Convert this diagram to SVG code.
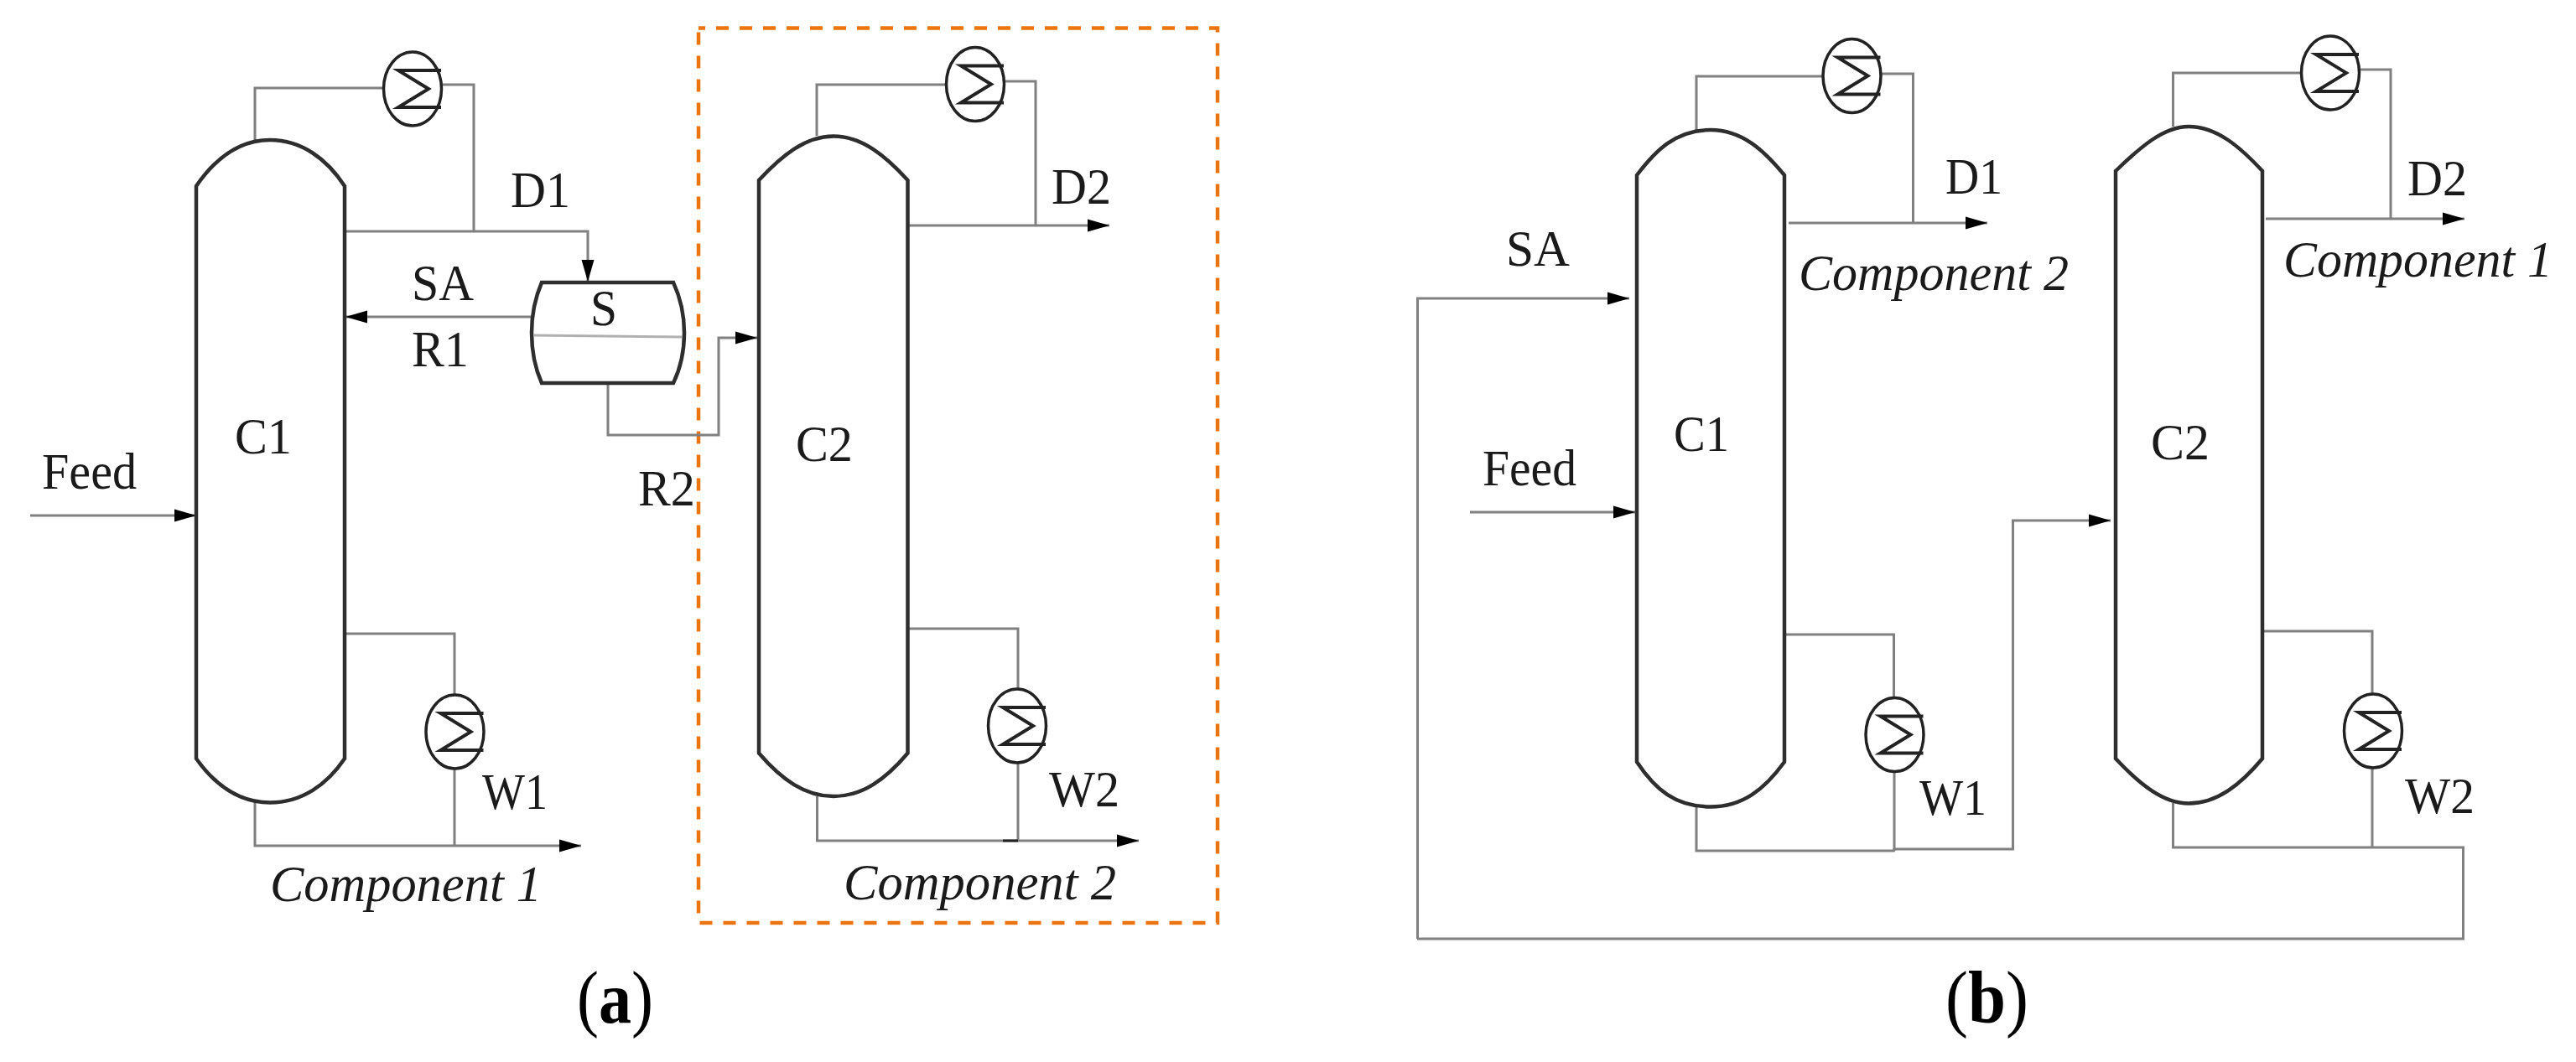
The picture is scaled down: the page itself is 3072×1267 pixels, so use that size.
<svg xmlns="http://www.w3.org/2000/svg" xmlns:xlink="http://www.w3.org/1999/xlink" width="3072" height="1267" viewBox="0 0 3072 1267">
<style>
.t{font-family:"Liberation Serif","Times New Roman",serif;font-size:62px;fill:#1a1a1a}
.i{font-style:italic;font-size:61px}
.cap{font-size:88px;fill:#000}
.cap tspan{font-weight:bold}
.col{fill:#fff;stroke:#2e2e2e;stroke-width:4.5}
.con{fill:none;stroke:#808080;stroke-width:3}
.arr{marker-end:url(#head)}
.dash{fill:none;stroke:#ea7510;stroke-width:4.5;stroke-dasharray:15 13;stroke-dashoffset:7}
.sh{fill:#fff;stroke:#222;stroke-width:3.5}
.sg{fill:none;stroke:#222;stroke-width:4}
</style>
<defs>
<marker id="head" markerUnits="userSpaceOnUse" markerWidth="26" markerHeight="16" refX="26" refY="8" orient="auto">
<path d="M0,0.5 L26,8 L0,15.5 Z" fill="#000"/>
</marker>
<g id="cond">
<ellipse class="sh" cx="0" cy="0" rx="34.5" ry="44"/>
<path class="sg" d="M34,-22 H-17 L19,0 L-17,22 H34"/>
</g>
</defs>
<rect width="3072" height="1267" fill="#fff"/>

<path id="selection" class="dash" d="M833,33.5 H1452 V1101 H833 Z"/>

<g id="connectors">
<path class="con" d="M304,167 V105 H458"/>
<path class="con" d="M526,101 H565 V276"/>
<path class="con arr" d="M413,276 H701 V336"/>
<path class="con arr" d="M634,378 H412"/>
<path class="con arr" d="M725,457 V519 H857 V403 H903"/>
<path class="con arr" d="M36,615 H234"/>
<path class="con" d="M413,756 H542 V830"/>
<path class="con" d="M542,916 V1009"/>
<path class="con arr" d="M304,957 V1009 H693"/>
<path class="con" d="M974,162 V101 H1129"/>
<path class="con" d="M1197,97 H1235 V269"/>
<path class="con arr" d="M1084,269 H1323"/>
<path class="con" d="M1084,750 H1214 V823"/>
<path class="con" d="M1214,909 V1003"/>
<path class="con arr" d="M974.5,950 V1003 H1358"/>
<path d="M1196,1003 H1214" fill="none" stroke="#222" stroke-width="3"/>
<path class="con" d="M2023,155 V91 H2174"/>
<path class="con" d="M2243,88 H2281.5 V266"/>
<path class="con arr" d="M2133,266 H2370"/>
<path class="con arr" d="M1690.5,1120 V356 H1943"/>
<path class="con arr" d="M1753,611 H1950"/>
<path class="con" d="M2128,757 H2258.5 V833"/>
<path class="con" d="M2259,920 V1015"/>
<path class="con arr" d="M2023,962 V1015 H2258.5 L2259,1013 H2400.5 V621 H2517"/>
<path class="con" d="M2591.5,151 V87 H2744"/>
<path class="con" d="M2815,83 H2851 V261"/>
<path class="con arr" d="M2702,261 H2939"/>
<path class="con" d="M2698,753 H2829 V828"/>
<path class="con" d="M2829,916 V1011"/>
<path class="con" d="M2591.5,958 V1011 H2937.5 V1120 H1690"/>
</g>

<g id="a-C1">
<path class="col" d="M234,222 C256,190 284,167 322,167 C360,167 390,190 411,222 V905 C390,936 360,957.5 322,957.5 C284,957.5 256,936 234,905 Z"/>
<text class="t" x="280" y="541" textLength="68" lengthAdjust="spacingAndGlyphs">C1</text>
</g>
<g id="a-cond1"><use href="#cond" xlink:href="#cond" x="492" y="106"/></g>
<g id="a-reb1"><use href="#cond" xlink:href="#cond" x="542.5" y="873"/></g>
<g id="a-S">
<path class="col" d="M646,337 H803 Q816,365 816,397 Q816,430 803,457 H646 Q634,430 634,397 Q634,365 646,337 Z"/>
<path d="M636,400 L813,402" fill="none" stroke="#b0b0b0" stroke-width="3"/>
<text class="t" x="704" y="388" textLength="32" lengthAdjust="spacingAndGlyphs">S</text>
</g>
<g id="a-C2">
<path class="col" d="M905,215 C932,186 960,162.5 994,162.5 C1028,162.5 1056,186 1082.5,215 V898.5 C1056,930 1028,950 994,950 C960,950 932,930 905,898.5 Z"/>
<text class="t" x="949" y="550" textLength="68" lengthAdjust="spacingAndGlyphs">C2</text>
</g>
<g id="a-cond2"><use href="#cond" xlink:href="#cond" x="1163" y="100.5"/></g>
<g id="a-reb2"><use href="#cond" xlink:href="#cond" x="1213" y="866"/></g>

<g id="a-labels">
<text class="t" x="50" y="583" textLength="113" lengthAdjust="spacingAndGlyphs">Feed</text>
<text class="t" x="609" y="247" textLength="71" lengthAdjust="spacingAndGlyphs">D1</text>
<text class="t" x="491" y="358" textLength="74" lengthAdjust="spacingAndGlyphs">SA</text>
<text class="t" x="491" y="437" textLength="68" lengthAdjust="spacingAndGlyphs">R1</text>
<text class="t" x="761" y="603" textLength="68" lengthAdjust="spacingAndGlyphs">R2</text>
<text class="t" x="1254" y="243" textLength="71" lengthAdjust="spacingAndGlyphs">D2</text>
<text class="t" x="575" y="965" textLength="78" lengthAdjust="spacingAndGlyphs">W1</text>
<text class="t" x="1251" y="962" textLength="84" lengthAdjust="spacingAndGlyphs">W2</text>
<text class="t i" x="322" y="1075" textLength="324" lengthAdjust="spacingAndGlyphs">Component 1</text>
<text class="t i" x="1006" y="1073" textLength="325" lengthAdjust="spacingAndGlyphs">Component 2</text>
<text class="t cap" x="688" y="1220" textLength="91" lengthAdjust="spacingAndGlyphs">(<tspan>a</tspan>)</text>
</g>

<g id="b-C1">
<path class="col" d="M1952,209 C1974,180 1998,155 2040,155 C2078,155 2104,180 2128,209 V909 C2104,942 2078,962.5 2040,962.5 C1998,962.5 1974,942 1952,909 Z"/>
<text class="t" x="1996" y="538" textLength="66" lengthAdjust="spacingAndGlyphs">C1</text>
</g>
<g id="b-cond1"><use href="#cond" xlink:href="#cond" x="2208.5" y="90.5"/></g>
<g id="b-reb1"><use href="#cond" xlink:href="#cond" x="2259.5" y="876.5"/></g>
<g id="b-C2">
<path class="col" d="M2523,204 C2552,176 2580,151 2610,151 C2644,151 2672,176 2698,204 V905 C2672,936 2644,958.5 2610,958.5 C2580,958.5 2552,936 2523,905 Z"/>
<text class="t" x="2565" y="548" textLength="70" lengthAdjust="spacingAndGlyphs">C2</text>
</g>
<g id="b-cond2"><use href="#cond" xlink:href="#cond" x="2779" y="87"/></g>
<g id="b-reb2"><use href="#cond" xlink:href="#cond" x="2830" y="872"/></g>

<g id="b-labels">
<text class="t" x="1796" y="317" textLength="76" lengthAdjust="spacingAndGlyphs">SA</text>
<text class="t" x="1768" y="579" textLength="112" lengthAdjust="spacingAndGlyphs">Feed</text>
<text class="t" x="2320" y="231" textLength="68" lengthAdjust="spacingAndGlyphs">D1</text>
<text class="t" x="2871" y="233" textLength="71" lengthAdjust="spacingAndGlyphs">D2</text>
<text class="t" x="2289" y="972" textLength="80" lengthAdjust="spacingAndGlyphs">W1</text>
<text class="t" x="2868" y="970" textLength="83" lengthAdjust="spacingAndGlyphs">W2</text>
<text class="t i" x="2145" y="346" textLength="322" lengthAdjust="spacingAndGlyphs">Component 2</text>
<text class="t i" x="2723" y="330" textLength="321" lengthAdjust="spacingAndGlyphs">Component 1</text>
<text class="t cap" x="2320" y="1220" textLength="99" lengthAdjust="spacingAndGlyphs">(<tspan>b</tspan>)</text>
</g>
</svg>
